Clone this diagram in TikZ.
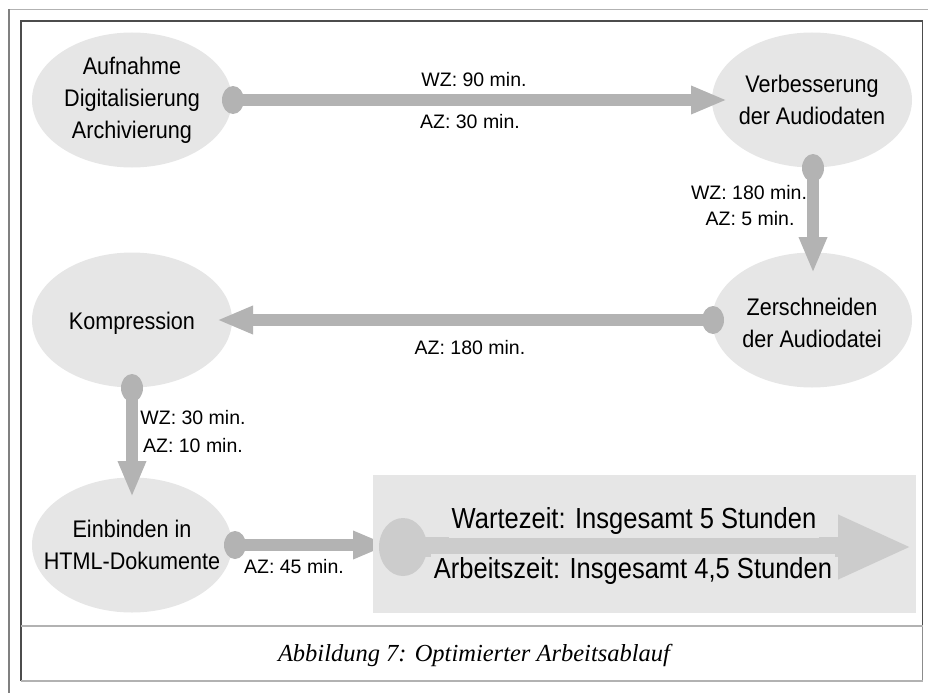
\documentclass[tikz,border=0pt]{standalone}
\usepackage{fontspec}
\setmainfont[FakeStretch=0.9]{Liberation Sans}
\newfontfamily\lblfont{Liberation Sans}
\newfontfamily\bigfont[FakeStretch=0.88]{Liberation Sans}
\newfontfamily\capfont{Liberation Serif}
\usetikzlibrary{arrows.meta,shapes.geometric}
\definecolor{ellgray}{HTML}{E6E6E6}
\definecolor{argray}{HTML}{B3B3B3}
\definecolor{bigar}{HTML}{CCCCCC}
\definecolor{panelgray}{HTML}{E6E6E6}
\definecolor{txt}{HTML}{000000}
\begin{document}
\begin{tikzpicture}[x=1pt,y=-1pt,
  ell/.style={ellipse,fill=ellgray,minimum width=200pt,minimum height=135pt,inner sep=0pt},
  etxt/.style={align=center,font=\fontsize{24}{32}\selectfont,inner sep=0pt,text=txt},
  lbl/.style={font=\lblfont\fontsize{19.5}{20}\selectfont,inner sep=0pt,text=txt},
  conn/.style={draw=argray,line width=12pt,-{Triangle[length=36pt,width=26pt]}},
  oval/.style={fill=argray},
  bigtxt/.style={font=\bigfont\fontsize{29}{32}\selectfont,fill=panelgray,inner sep=3pt,text=txt},
]
\useasboundingbox (0,0) rectangle (928,693);
% frame
\draw[gray!60,line width=1.5pt] (8.5,9.5) -- (928,9.5);
\draw[gray,line width=2pt] (8.5,9.5) -- (8.5,693);
\draw[black!70,line width=1.3pt] (21,681) -- (21,21) -- (922.5,21) -- (922.5,626);
\draw[black!45,line width=1.5pt] (922.5,626) -- (922.5,681);
\draw[gray!60,line width=1.2pt] (21,626) -- (922.5,626);
\draw[gray!60,line width=1.2pt] (21,681) -- (922.5,681);

% nodes
\node[ell] (n1) at (132,100) {};
\node[ell] (n2) at (812,100) {};
\node[ell] (n3) at (812,320) {};
\node[ell] (n4) at (132,320) {};
\node[ell] (n5) at (132,545) {};
\node[etxt] (t1) at (n1) {Aufnahme\\Digitalisierung\\Archivierung};
\node[etxt] (t2) at (n2) {Verbesserung\\der Audiodaten};
\node[etxt] (t3) at ([yshift=-3pt]n3) {Zerschneiden\\der Audiodatei};
\node[etxt] (t4) at ([yshift=-3pt]n4) {Kompression};
\node[etxt] (t5) at (n5) {Einbinden in\\HTML-Dokumente};

% connector coordinates
\coordinate (o1) at (233,100);
\coordinate (h1) at (727,100);
\coordinate (o2) at (813,168);
\coordinate (h2) at (813,273);
\coordinate (o3) at (713,320);
\coordinate (h3) at (217,320);
\coordinate (o4) at (132,388);
\coordinate (h4) at (132,497);
\coordinate (o5) at (235,545);
\coordinate (h5) at (389,545);

\draw[conn] (o1) -- (h1);
\draw[conn] (o2) -- (h2);
\draw[conn] (o3) -- (h3);
\draw[conn] (o4) -- (h4);
\draw[conn] (o5) -- (h5);
\foreach \o in {o1,o2,o3,o4,o5} \fill[oval] (\o) ellipse (11 and 14);

% labels
\node[lbl] (l1a) at (474,80) {WZ: 90 min.};
\node[lbl] (l1b) at (470,122) {AZ: 30 min.};
\node[lbl] (l2a) at (749,193) {WZ: 180 min.};
\node[lbl] (l2b) at (750,219) {AZ: 5 min.};
\node[lbl] (l3) at (470,348) {AZ: 180 min.};
\node[lbl] (l4a) at (193,418) {WZ: 30 min.};
\node[lbl] (l4b) at (193,446) {AZ: 10 min.};
\node[lbl] (l5) at (294,567) {AZ: 45 min.};

% summary panel
\fill[panelgray] (373,475) rectangle (916,613);
\coordinate (bo) at (403,547);
\coordinate (bh) at (912,547);
\fill[bigar] (bo) ellipse (24 and 29);
\draw[bigar,line width=20pt,-{Triangle[length=74pt,width=59pt]}] (bo) -- (bh);
\node[bigtxt] (w) at (634,521) {Wartezeit: Insgesamt 5 Stunden};
\node[bigtxt] (a) at (633,571) {Arbeitszeit: Insgesamt 4,5 Stunden};

% caption
\node[font=\capfont\itshape\fontsize{24.5}{30}\selectfont,text=txt] (cap) at (474,655) {Abbildung 7: Optimierter Arbeitsablauf};
\end{tikzpicture}
\end{document}
